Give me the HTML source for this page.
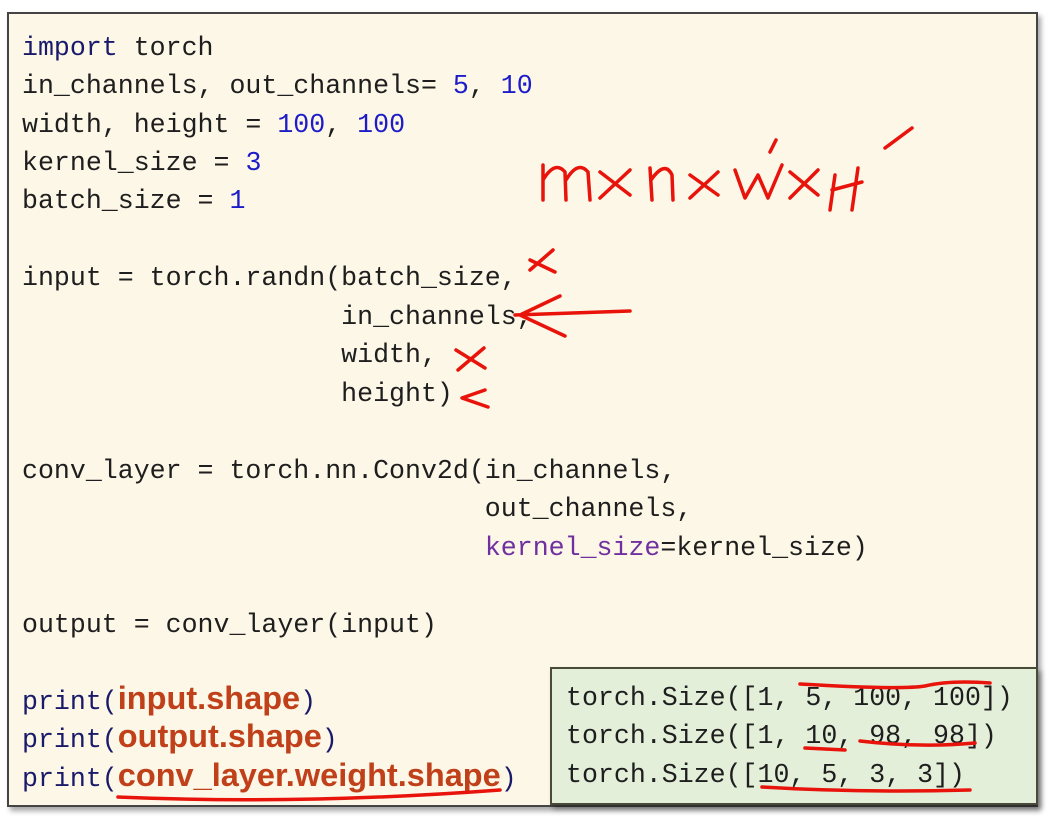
<!DOCTYPE html>
<html><head><meta charset="utf-8"><style>
body{margin:0;width:1060px;height:824px;background:#fff;position:relative;overflow:hidden;font-family:"Liberation Mono",monospace;}
.box{position:absolute;left:7px;top:12px;width:1027px;height:791px;background:#fdf7e7;border:2px solid #444;box-shadow:3px 4px 5px rgba(0,0,0,0.35);}
.l{position:absolute;left:22px;height:38px;line-height:38px;font-size:26.6px;color:#1e1e1e;white-space:pre;margin-top:1px}
.n{color:#1c1cc8}.k{color:#1a1a6a}.p{color:#7030a0}
.b{font-family:"Liberation Sans",sans-serif;font-weight:bold;color:#c0401a;font-size:32.5px;letter-spacing:0}
.g{position:absolute;left:550px;top:667px;width:484px;height:134px;background:#e4efd9;border:2px solid #4a4a3a;box-shadow:3px 4px 5px rgba(0,0,0,0.35);}
</style></head><body>
<div class="box"></div>
<div class="l" style="top:28px"><span class="k">import</span> torch</div>
<div class="l" style="top:66px">in_channels, out_channels= <span class="n">5</span>, <span class="n">10</span></div>
<div class="l" style="top:105px">width, height = <span class="n">100</span>, <span class="n">100</span></div>
<div class="l" style="top:143px">kernel_size = <span class="n">3</span></div>
<div class="l" style="top:181px">batch_size = <span class="n">1</span></div>
<div class="l" style="top:258px">input = torch.randn(batch_size,</div>
<div class="l" style="top:297px">                    in_channels,</div>
<div class="l" style="top:335px">                    width,</div>
<div class="l" style="top:374px">                    height)</div>
<div class="l" style="top:451px">conv_layer = torch.nn.Conv2d(in_channels,</div>
<div class="l" style="top:489px">                             out_channels,</div>
<div class="l" style="top:528px">                             <span class="p">kernel_size</span>=kernel_size)</div>
<div class="l" style="top:605px">output = conv_layer(input)</div>
<div class="l k" style="top:678px">print(<span class="b">input.shape</span>)</div>
<div class="l k" style="top:716px">print(<span class="b">output.shape</span>)</div>
<div class="l k" style="top:755px">print(<span class="b">conv_layer.weight.shape</span>)</div>
<div class="g"></div>
<div class="l" style="left:566px;top:678px">torch.Size([1, 5, 100, 100])</div>
<div class="l" style="left:566px;top:716px">torch.Size([1, 10, 98, 98])</div>
<div class="l" style="left:566px;top:755px">torch.Size([10, 5, 3, 3])</div>
<svg style="position:absolute;left:0;top:0" width="1060" height="824" fill="none" stroke="#e8140c" stroke-width="3.5" stroke-linecap="round" stroke-linejoin="round">
<path d="M543 200 L543 165 M543 180 Q555 160 565 172 L566 200 M566 180 Q578 160 588 172 L590 200"/>
<path d="M600 172 L630 195 M630 170 L600 198"/>
<path d="M652 200 L650 168 M651 180 Q665 160 672 175 L673 200"/>
<path d="M690 175 L718 195 M718 172 L690 198"/>
<path d="M735 170 L745 198 L758 175 L768 198 L782 165 M770 152 L776 140"/>
<path d="M790 172 L818 195 M818 170 L790 198"/>
<path d="M835 175 L830 210 M832 190 L862 182 M858 168 L852 210 M885 148 L912 128"/>
<path d="M530 260 L555 272 M553 250 L530 270"/>
<path d="M515 315 L630 311 M560 296 L520 315 L565 336"/>
<path d="M456 350 L485 368 M484 348 L458 370"/>
<path d="M485 390 L462 398 L488 407"/>
<path d="M118 797 Q300 805 500 790"/>
<path d="M800 684 Q900 690 925 686 Q950 680 990 683"/>
<path d="M805 748 L845 750 M860 741 Q920 748 975 743"/>
<path d="M762 787 Q860 793 970 790"/>
</svg>
</body></html>
